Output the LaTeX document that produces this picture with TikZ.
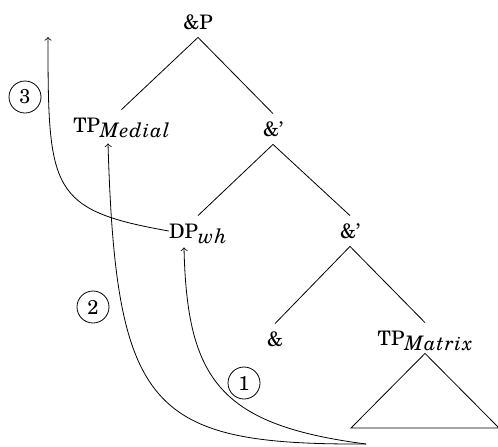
\documentclass[tikz,border=0pt]{standalone}
\usepackage{fontspec}
\setmainfont{TeX Gyre Schola}
\newfontfamily\subfont[LetterSpace=5]{TeX Gyre Schola Italic}
\newcommand{\sub}[1]{\raisebox{-0.55ex}{\subfont #1}}
\begin{document}
\begin{tikzpicture}[x=0.5pt,y=-0.5pt,
  tn/.style={inner sep=4pt, text height=7pt, text depth=0pt, anchor=base},
  num/.style={draw, circle, minimum size=16pt, inner sep=0pt},
  mv/.style={->, line width=0.4pt},
  edge/.style={line width=0.4pt}]
\useasboundingbox (0,0) rectangle (498,446);
% tree nodes
\node[tn] (P)   at (198,29)   {\&P};
\node[tn] (TPm) at (121.5,132) {TP\sub{Medial}};
\node[tn] (A1)  at (273,136)  {\&’};
\node[tn] (DP)  at (198,238)  {DP\sub{wh}};
\node[tn] (A2)  at (350,238)  {\&’};
\node[tn] (Amp) at (275,346)  {\&};
\node[tn] (TPx) at (425,345)  {TP\sub{Matrix}};
% tree edges
\draw[edge] (P.south) -- (TPm.north);
\draw[edge] (P.south) -- (A1.north);
\draw[edge] (A1.south) -- (DP.north);
\draw[edge] (A1.south) -- (A2.north);
\draw[edge] (A2.south) -- (Amp.north);
\draw[edge] (A2.south) -- (TPx.north);
% triangle
\coordinate (TL) at (351,428);
\coordinate (TR) at (499,428);
\draw[edge] (TPx.south) -- (TL) -- (TR) -- cycle;
% movement labels
\node[num] (n3) at (25,97)   {3};
\node[num] (n2) at (93,307)  {2};
\node[num] (n1) at (244,383) {1};
% movement arrows
\coordinate (S) at (366,444);
\coordinate (E3) at (48,37);
\draw[mv] (S) .. controls (220,425) and (187,380) .. ([xshift=-7pt,yshift=-0.5pt]DP.south);
\draw[mv] (S) .. controls (150,445) and (116,410) .. ([xshift=-6.75pt,yshift=-1.5pt]TPm.south);
\draw[mv] ([xshift=4pt]DP.west) .. controls (50,210) and (48,190) .. (E3);
\end{tikzpicture}
\end{document}
